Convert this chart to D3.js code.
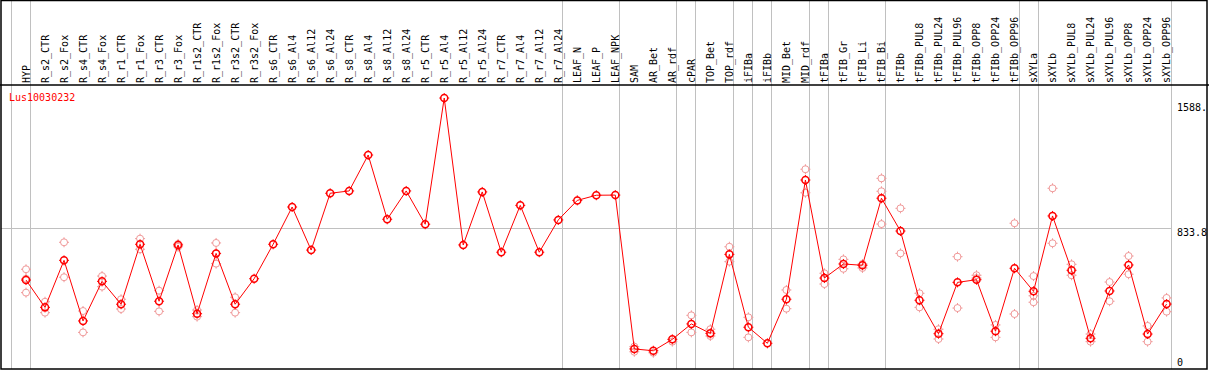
<!DOCTYPE html>
<html>
<head>
<meta charset="utf-8">
<script src="https://cdnjs.cloudflare.com/ajax/libs/d3/7.8.5/d3.min.js"></script>
<style>
  body { margin: 0; background: #fff; }
  text { font-family: "DejaVu Sans Mono", monospace; font-size: 10px; }
</style>
</head>
<body>
<div id="chart"></div>
<script>
var w = 1209;
var h = 370;

// sample names, one column each
var labels = ["HYP","R_s2_CTR","R_s2_Fox","R_s4_CTR","R_s4_Fox","R_r1_CTR","R_r1_Fox","R_r3_CTR","R_r3_Fox",
  "R_r1s2_CTR","R_r1s2_Fox","R_r3s2_CTR","R_r3s2_Fox","R_s6_CTR","R_s6_Al4","R_s6_Al12","R_s6_Al24",
  "R_s8_CTR","R_s8_Al4","R_s8_Al12","R_s8_Al24","R_r5_CTR","R_r5_Al4","R_r5_Al12","R_r5_Al24",
  "R_r7_CTR","R_r7_Al4","R_r7_Al12","R_r7_Al24","LEAF_N","LEAF_P","LEAF_NPK","SAM","AR_Bet","AR_rdf",
  "cPAR","TOP_Bet","TOP_rdf","iFIBa","iFIBb","MID_Bet","MID_rdf","tFIBa","tFIB_Gr","tFIB_Li","tFIB_Bi",
  "tFIBb","tFIBb_PUL8","tFIBb_PUL24","tFIBb_PUL96","tFIBb_OPP8","tFIBb_OPP24","tFIBb_OPP96",
  "sXYLa","sXYLb","sXYLb_PUL8","sXYLb_PUL24","sXYLb_PUL96","sXYLb_OPP8","sXYLb_OPP24","sXYLb_OPP96"];

// mean expression per sample
var means = [519,354,638,272,511,373,735,391,731,316,680,373,527,735,960,700,1043,
  1057,1274,886,1057,856,1618,731,1051,687,970,687,882,1000,1031,1032,103,92,161,
  254,197,674,234,137,403,1123,531,616,608,1013,815,397,195,505,521,210,590,
  451,906,578,167,453,610,193,374];

// replicate values per sample
var reps = [[584,443,527],[388,322],[747,536],[332,203],[543,479],[403,344],[769,705],[455,330],[737,720],
  [338,298],[743,618],[415,322],[],[],[],[],[],
  [],[],[],[],[],[],[],[],
  [],[],[],[],[],[],[],[117,86],[80],[147],
  [306,203],[222,181],[720,630],[294,173],[],[459,346],[1188,1046],[560,495],[644,587],[616,592],[1133,1055,857],
  [952,680],[439,354],[222,163],[660,350],[548,531],[248,173],[862,314],
  [543,424,385],[1073,741],[614,548],[193,147],[507,391],[664,554],[242,147],[411,328]];

var yTicks = [0, 833.8, 1588];
var yTickText = ["0", "833.8", "1588."];

// index of last sample in each group (-1 = left edge)
var groupEnds = [-1,0,28,31,34,35,37,38,39,41,42,45,52,53,60];

var title = "Lus10030232";

var svg1 = d3.select("#chart")
  .append("svg")
  .attr("width", w)
  .attr("height", h);

var xScale = d3.scaleLinear()
  .domain([0, labels.length - 1])
  .range([26, 1166.6]);

var yScale = d3.scaleLinear()
  .domain([0, 1588])
  .range([366, 103]);

//group separators
svg1.selectAll("line.sep")
  .data(groupEnds)
  .enter()
  .append("line")
  .attr("class", "sep")
  .attr("x1", function(d) { return Math.round(xScale(d) + 4) + 0.5; })
  .attr("x2", function(d) { return Math.round(xScale(d) + 4) + 0.5; })
  .attr("y1", 0)
  .attr("y2", 369)
  .style("stroke", "#c0c0c0")
  .style("stroke-width", 1);

//mid grid line
svg1.append("line")
  .attr("x1", 1)
  .attr("x2", Math.round(xScale(60) + 4))
  .attr("y1", Math.round(yScale(yTicks[1])) + 0.5)
  .attr("y2", Math.round(yScale(yTicks[1])) + 0.5)
  .style("stroke", "#c0c0c0")
  .style("stroke-width", 1);

//frame and header line
svg1.append("rect")
  .attr("x", 1)
  .attr("y", 0.5)
  .attr("width", 1206)
  .attr("height", 368.5)
  .style("fill", "none")
  .style("stroke", "black")
  .style("stroke-width", 1.5);

svg1.append("line")
  .attr("x1", 0).attr("x2", w)
  .attr("y1", 85).attr("y2", 85)
  .style("stroke", "black")
  .style("stroke-width", 1.5);

//column labels
svg1.selectAll("text.lab")
  .data(labels)
  .enter()
  .append("text")
  .attr("class", "lab")
  .attr("transform", function(d, i) { return "translate(" + (xScale(i) + 3.5) + ",83) rotate(-90)"; })
  .attr("text-anchor", "start")
  .style("fill", "black")
  .text(function(d) { return d; });

//y labels
svg1.selectAll("text.ytick")
  .data(yTicks)
  .enter()
  .append("text")
  .attr("class", "ytick")
  .attr("x", 1177)
  .attr("y", function(d) { return Math.min(yScale(d) + 8, 366); })
  .style("fill", "black")
  .text(function(d, i) { return yTickText[i]; });

svg1.append("text")
  .attr("x", 9)
  .attr("y", 101)
  .style("fill", "red")
  .text(title);

function marker(g, x, y, color, sw) {
  var r = 3.5;
  g.append("circle")
    .attr("cx", x).attr("cy", y).attr("r", r)
    .style("fill", "none")
    .style("stroke", color)
    .style("stroke-width", sw);
  g.append("path")
    .attr("d", "M" + x + "," + (y - r - 1.5) + "v2" +
               "M" + x + "," + (y + r - 0.5) + "v2" +
               "M" + (x - r - 1.5) + "," + y + "h2" +
               "M" + (x + r - 0.5) + "," + y + "h2")
    .style("stroke", color)
    .style("stroke-width", 1);
}

//replicates
var repG = svg1.append("g");
reps.forEach(function(arr, i) {
  arr.forEach(function(v) {
    marker(repG, xScale(i), yScale(v), "#f09a9a", 1);
  });
});

//mean line
var line = d3.line()
  .x(function(d, i) { return xScale(i); })
  .y(function(d) { return yScale(d); });

svg1.append("path")
  .datum(means)
  .attr("d", line)
  .style("fill", "none")
  .style("stroke", "red")
  .style("stroke-width", 1);

var meanG = svg1.append("g");
means.forEach(function(v, i) {
  marker(meanG, xScale(i), yScale(v), "red", 1.5);
});
</script>
</body>
</html>
